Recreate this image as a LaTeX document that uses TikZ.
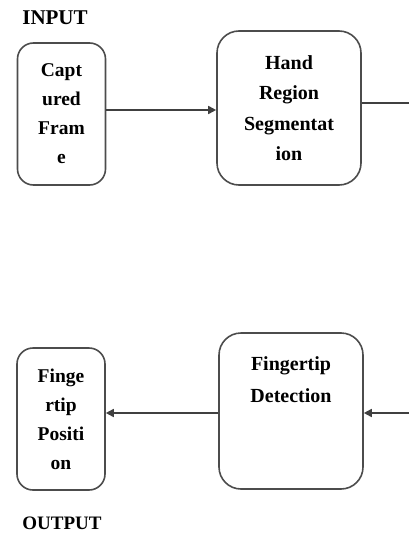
\documentclass[tikz,border=0pt]{standalone}
\usepackage{fontspec}
\setmainfont{Liberation Serif}
\usetikzlibrary{arrows.meta}
\begin{document}
\begin{tikzpicture}[x=1pt,y=-1pt,
  boxline/.style={draw=black!70,line width=1.6pt},
  smallbox/.style={boxline,rounded corners=16pt,minimum width=88pt,minimum height=142pt,inner sep=0pt,
    align=center,font=\fontsize{19.5}{29}\selectfont\bfseries},
  bigbox/.style={boxline,rounded corners=22pt,minimum width=144pt,minimum height=154pt,inner sep=0pt,
    align=center,font=\fontsize{20}{30.5}\selectfont\bfseries},
  conn/.style={draw=black!75,line width=1.6pt},
  arr/.style={conn,-{Triangle[length=8pt,width=8pt]}},
  tag/.style={font=\fontsize{21}{24}\selectfont\bfseries}]
\useasboundingbox (0,0) rectangle (409,535);
\node[tag] (in) at (55,18) {INPUT};
\node[tag,font=\fontsize{19}{22}\selectfont\bfseries] (out) at (62,523) {OUTPUT};
\node[smallbox] (cf) at (61.5,114) {Capt\\ured\\Fram\\e};
\node[bigbox] (hrs) at (289,108) {Hand\\Region\\Segmentat\\ion};
\node[smallbox] (fp) at (61,419) {Finge\\rtip\\Positi\\on};
\node[bigbox,minimum height=156pt,
  label={[anchor=north,yshift=-21pt,align=center,font=\fontsize{20}{32}\selectfont\bfseries]north:Fingertip\\Detection}] (fd) at (291,411) {};
\coordinate (r1) at (409,103);
\coordinate (r2) at (409,413);
\draw[arr] ([yshift=4pt]cf.east) -- ([yshift=4pt]cf.east -| hrs.west);
\draw[conn] (hrs.east |- r1) -- (r1);
\draw[arr] (r2) -- (r2 -| fd.east);
\draw[arr] (fd.west |- r2) -- (fp.east |- r2);
\end{tikzpicture}
\end{document}
